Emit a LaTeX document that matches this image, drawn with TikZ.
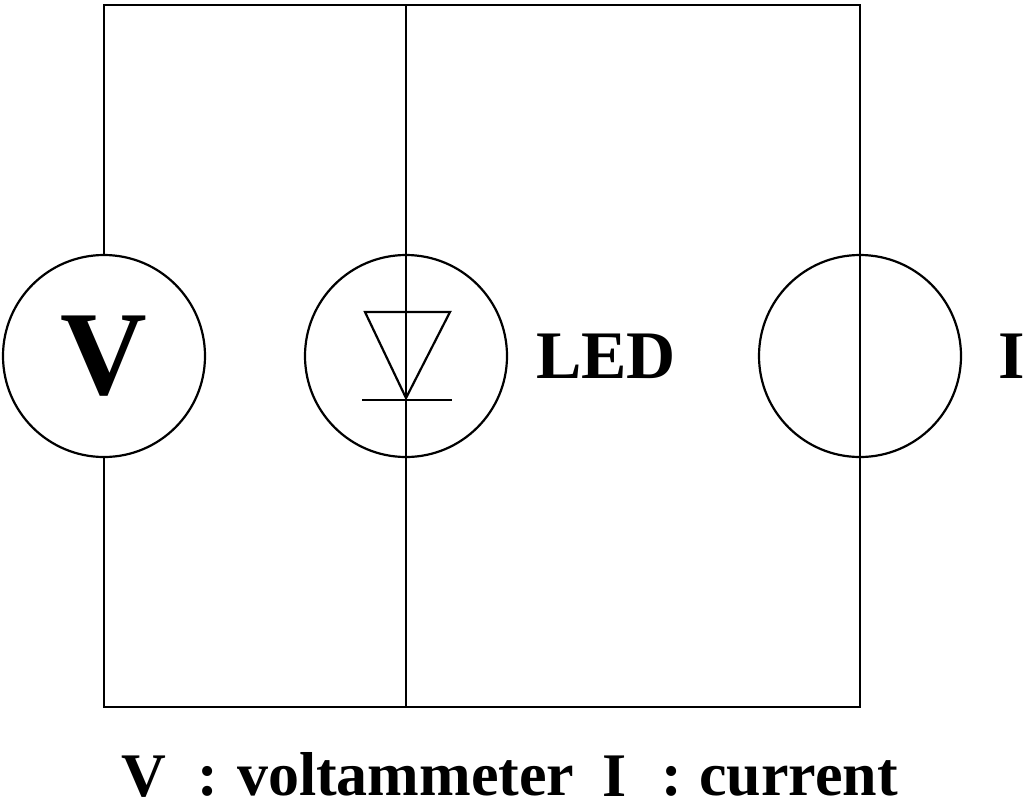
\documentclass[tikz,border=0pt]{standalone}
\usepackage{fontspec}
\setmainfont{Liberation Serif}
\begin{document}
\begin{tikzpicture}[x=1pt,y=-1pt,line width=2.2pt,
  meter/.style={circle,draw,minimum size=202pt,inner sep=0pt},
  lbl/.style={font=\fontsize{62}{62}\selectfont\bfseries,inner sep=0pt,anchor=base west}]
\useasboundingbox (0,0) rectangle (1024,809);
\coordinate (tl) at (104,5); \coordinate (tm) at (406,5); \coordinate (tr) at (860,5);
\coordinate (bl) at (104,707); \coordinate (bm) at (406,707); \coordinate (br) at (860,707);
\node[meter] (V) at (104,356) {\fontsize{120}{120}\selectfont\bfseries V};
\node[meter] (L) at (406,356) {};
\node[meter] (I) at (860,356) {};
\draw (V.north) -- (tl) -- (tr) -- (br) -- (bl) -- (V.south);
\draw (tm) -- (bm);
\draw[line join=miter] (365,312) -- (450,312) -- (406,398) -- cycle;
\draw (362,400) -- (452,400);
\node[lbl,font=\fontsize{68}{68}\selectfont\bfseries,anchor=west] (led) at (535,356) {LED};
\node[lbl,font=\fontsize{68}{68}\selectfont\bfseries,anchor=west] (iL) at (997,356) {I};
\node[lbl] (c1) at (120,796) {V};
\node[lbl] (c2) at (196,795) {:};
\node[lbl] (c3) at (236,795) {voltammeter};
\node[lbl] (c4) at (601,796) {I};
\node[lbl] (c5) at (660,795) {:};
\node[lbl] (c6) at (698,795) {current};
\end{tikzpicture}
\end{document}
